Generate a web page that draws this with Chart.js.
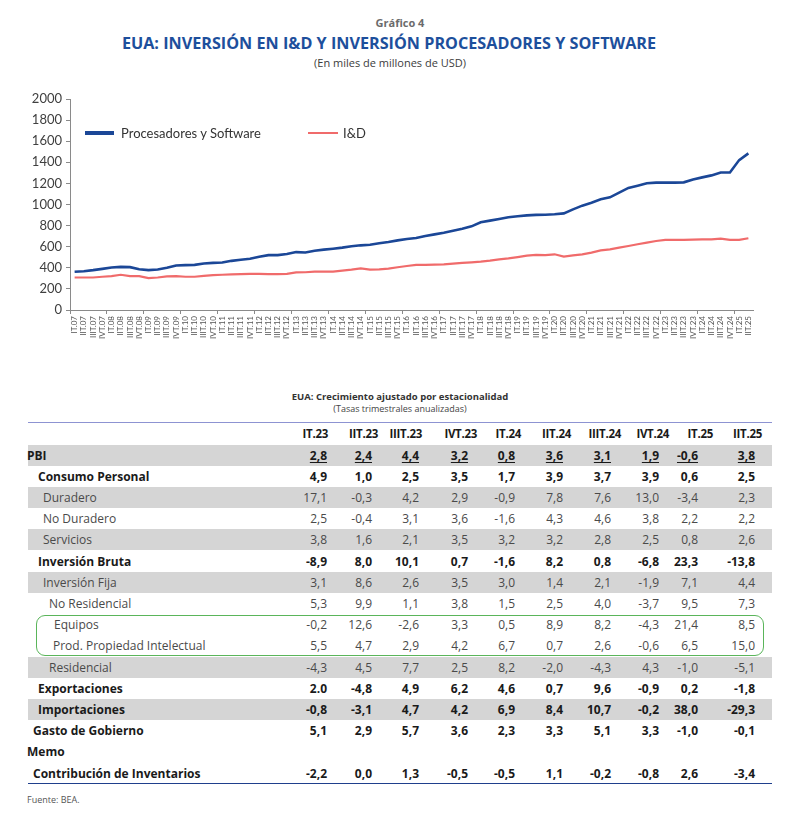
<!DOCTYPE html>
<html>
<head>
<meta charset="utf-8">
<script src="https://cdn.jsdelivr.net/npm/chart.js@4/dist/chart.umd.min.js"></script>
<style>
  html, body { margin: 0; padding: 0; background: #fff; }
  #page { position: relative; width: 800px; height: 829px; overflow: hidden; background: #fff; font-family: "Open Sans", sans-serif; }
  .abs { position: absolute; white-space: nowrap; }
  .ctr { left: 0; width: 800px; text-align: center; }
  #chartCanvas { position: absolute; left: 0; top: 85px; }
  .row { position: absolute; left: 28px; width: 744px; }
  .cell { position: absolute; top: 0; white-space: nowrap; }
</style>
</head>
<body>
<div id="page">
  <div class="abs ctr" style="top:15px;font-size:11px;font-weight:700;color:#6b6b6b;">Gráfico 4</div>
  <div class="abs ctr" style="top:32px;font-size:16.2px;font-weight:700;color:#1d4f9c;left:-11px;">EUA: INVERSIÓN EN I&amp;D Y INVERSIÓN PROCESADORES Y SOFTWARE</div>
  <div class="abs ctr" style="top:55px;font-size:11px;color:#3c3c3c;left:-10px;">(En miles de millones de USD)</div>
  <canvas id="chartCanvas" width="800" height="270"></canvas>
  <div id="legend"></div>

  <div class="abs ctr" style="top:390px;font-size:9.5px;font-weight:700;color:#333;">EUA: Crecimiento ajustado por estacionalidad</div>
  <div class="abs ctr" style="top:402px;font-size:9px;color:#444;">(Tasas trimestrales anualizadas)</div>
  <div class="abs" style="left:28px;top:422px;width:744px;height:0;border-top:1.5px solid #8d93d2;"></div>
  <div id="table"></div>
  <div class="abs" style="left:28px;top:783px;width:744px;height:0;border-top:1.5px solid #1f3f8c;"></div>
  <div class="abs" style="left:36px;top:615px;width:726px;height:39px;border:1.5px solid #5ab55a;border-radius:9px;"></div>
  <div class="abs" style="left:27px;top:793px;font-size:9px;color:#555;">Fuente: BEA.</div>
</div>
<script>
// ---------------- DATA ----------------
const years = ['07','08','09','10','11','12','13','14','15','16','17','18','19','20','21','22','23','24','25'];
const quarterNames = ['IT','IIT','IIIT','IVT'];
const lastYearQuarters = 2; // 2025: IT, IIT

const seriesNames = ['Procesadores y Software', 'I&D'];

const procesadoresSoftware = [
  362, 368, 378, 390,
  403, 409, 406, 387,
  378, 384, 400, 422,
  425, 428, 441, 447,
  450, 466, 476, 485,
  504, 520, 520, 530,
  549, 545, 562, 572,
  581, 591, 604, 613,
  619, 632, 645, 660,
  673, 682, 701, 717,
  733, 752, 771, 793,
  831, 847, 863, 879,
  888, 897, 902, 903,
  907, 916, 954, 989,
  1017, 1049, 1068, 1112,
  1157, 1178, 1201, 1207,
  1207, 1207, 1210, 1238,
  1257, 1276, 1304, 1304,
  1421, 1485
];

const iyd = [
  308, 308, 308, 315,
  321, 334, 321, 321,
  302, 308, 318, 321,
  315, 315, 324, 330,
  334, 337, 340, 343,
  343, 340, 340, 343,
  356, 358, 364, 364,
  364, 373, 382, 395,
  382, 386, 392, 405,
  417, 427, 427, 430,
  433, 440, 446, 452,
  458, 468, 480, 490,
  502, 515, 522, 521,
  528, 506, 518, 528,
  544, 565, 575, 591,
  607, 623, 639, 654,
  664, 664, 664, 667,
  670, 670, 677, 664,
  664, 680
];

const yTicks = { min: 0, max: 2000, step: 200 };

// Table data
const tableHeaders = ['IT.23','IIT.23','IIIT.23','IVT.23','IT.24','IIT.24','IIIT.24','IVT.24','IT.25','IIT.25'];
const tableLabels = ['PBI','Consumo Personal','Duradero','No Duradero','Servicios','Inversión Bruta','Inversión Fija','No Residencial','Equipos','Prod. Propiedad Intelectual','Residencial','Exportaciones','Importaciones','Gasto de Gobierno','Memo','Contribución de Inventarios'];
const pbi               = ['2,8','2,4','4,4','3,2','0,8','3,6','3,1','1,9','-0,6','3,8'];
const consumoPersonal   = ['4,9','1,0','2,5','3,5','1,7','3,9','3,7','3,9','0,6','2,5'];
const duradero          = ['17,1','-0,3','4,2','2,9','-0,9','7,8','7,6','13,0','-3,4','2,3'];
const noDuradero        = ['2,5','-0,4','3,1','3,6','-1,6','4,3','4,6','3,8','2,2','2,2'];
const servicios         = ['3,8','1,6','2,1','3,5','3,2','3,2','2,8','2,5','0,8','2,6'];
const inversionBruta    = ['-8,9','8,0','10,1','0,7','-1,6','8,2','0,8','-6,8','23,3','-13,8'];
const inversionFija     = ['3,1','8,6','2,6','3,5','3,0','1,4','2,1','-1,9','7,1','4,4'];
const noResidencial     = ['5,3','9,9','1,1','3,8','1,5','2,5','4,0','-3,7','9,5','7,3'];
const equipos           = ['-0,2','12,6','-2,6','3,3','0,5','8,9','8,2','-4,3','21,4','8,5'];
const propIntelectual   = ['5,5','4,7','2,9','4,2','6,7','0,7','2,6','-0,6','6,5','15,0'];
const residencial       = ['-4,3','4,5','7,7','2,5','8,2','-2,0','-4,3','4,3','-1,0','-5,1'];
const exportaciones     = ['2.0','-4,8','4,9','6,2','4,6','0,7','9,6','-0,9','0,2','-1,8'];
const importaciones     = ['-0,8','-3,1','4,7','4,2','6,9','8,4','10,7','-0,2','38,0','-29,3'];
const gastoGobierno     = ['5,1','2,9','5,7','3,6','2,3','3,3','5,1','3,3','-1,0','-0,1'];
const memo              = [];
const contribInventarios= ['-2,2','0,0','1,3','-0,5','-0,5','1,1','-0,2','-0,8','2,6','-3,4'];
const tableValues = [pbi, consumoPersonal, duradero, noDuradero, servicios, inversionBruta, inversionFija, noResidencial, equipos, propIntelectual, residencial, exportaciones, importaciones, gastoGobierno, memo, contribInventarios];

// ---------------- LAYOUT / STYLE ----------------
const colors = ['#1b4797', '#f06b6b'];
const rowIndent = [27,38,43,43,43,38,43,49,54,53,49,38,38,33,27,33];
const rowBold   = [1,1,0,0,0,1,0,0,0,0,0,1,1,1,1,1];
const rowGray   = [1,0,1,0,1,0,1,0,0,0,1,0,1,0,0,0];
const numRight  = [327,372,419,468,515,563,611,659,698,755];
const hdrRight  = [328,378,422,477,521,571,621,669,713,762];

// Build labels
const labels = [];
years.forEach((y, yi) => {
  const nq = (yi === years.length - 1) ? lastYearQuarters : 4;
  for (let q = 0; q < nq; q++) labels.push(quarterNames[q] + '.' + y);
});

// Legend (HTML)
const legend = document.getElementById('legend');
const legendPos = [{line: 85, w: 29, h: 3.5, text: 121}, {line: 308, w: 30, h: 2.5, text: 343}];
seriesNames.forEach((name, i) => {
  const p = legendPos[i];
  const ln = document.createElement('div');
  ln.className = 'abs';
  ln.style.cssText = `left:${p.line}px;top:${133 - p.h/2}px;width:${p.w}px;height:${p.h}px;background:${colors[i]};`;
  legend.appendChild(ln);
  const tx = document.createElement('div');
  tx.className = 'abs';
  tx.textContent = name;
  tx.style.cssText = `left:${p.text}px;top:124px;font-family:Lato,sans-serif;font-size:13px;line-height:18px;color:#333;`;
  legend.appendChild(tx);
});

// Chart
const axisColor = '#8a8a8a';
new Chart(document.getElementById('chartCanvas'), {
  type: 'line',
  data: {
    labels: labels,
    datasets: [
      { label: seriesNames[0], data: procesadoresSoftware, borderColor: colors[0], borderWidth: 2.6, pointRadius: 0, tension: 0, fill: false },
      { label: seriesNames[1], data: iyd, borderColor: colors[1], borderWidth: 2.2, pointRadius: 0, tension: 0, fill: false }
    ]
  },
  options: {
    responsive: false,
    animation: false,
    layout: { padding: { left: 25, right: 47, top: 14, bottom: 5 } },
    plugins: { legend: { display: false }, tooltip: { enabled: false }, title: { display: false } },
    scales: {
      x: {
        type: 'category',
        offset: true,
        afterFit: (s) => { s.height = 40; },
        grid: {
          offset: true,
          drawOnChartArea: false,
          drawTicks: true,
          tickLength: 4,
          color: (ctx) => (ctx.index !== undefined && ctx.index % 4 === 0) ? axisColor : 'rgba(0,0,0,0)'
        },
        border: { display: true, color: axisColor, width: 1 },
        ticks: {
          autoSkip: false,
          maxRotation: 90,
          minRotation: 90,
          padding: 2,
          color: '#555',
          font: { family: 'Lato', size: 8 }
        }
      },
      y: {
        min: yTicks.min,
        max: yTicks.max,
        afterFit: (s) => { s.width = 45; },
        grid: { drawOnChartArea: false, drawTicks: true, tickLength: 4, color: axisColor },
        border: { display: true, color: axisColor, width: 1 },
        ticks: {
          stepSize: yTicks.step,
          padding: 4,
          color: '#404040',
          font: { family: 'Lato', size: 13 },
          callback: (v) => String(v)
        }
      }
    }
  }
});

// Table (HTML)
const table = document.getElementById('table');
const headerTop = 423, rowTop = 444.5, rowH = 21.2;
// header row
const hr = document.createElement('div');
hr.className = 'row';
hr.style.cssText = `top:${headerTop}px;height:${rowTop - headerTop}px;line-height:${rowTop - headerTop}px;font-size:11.5px;letter-spacing:-0.3px;font-weight:700;color:#1a1a1a;`;
tableHeaders.forEach((h, c) => {
  const d = document.createElement('div');
  d.className = 'cell';
  d.textContent = h;
  d.style.right = (772 - hdrRight[c]) + 'px';
  hr.appendChild(d);
});
table.appendChild(hr);

tableLabels.forEach((lab, r) => {
  const row = document.createElement('div');
  row.className = 'row';
  const bold = rowBold[r] === 1;
  row.style.cssText = `top:${rowTop + r * rowH}px;height:${rowH}px;line-height:${rowH}px;font-size:12px;` +
    `background:${rowGray[r] ? '#d5d5d5' : 'transparent'};font-weight:${bold ? 700 : 400};color:${bold ? '#1a1a1a' : '#4a4a4a'};`;
  const l = document.createElement('div');
  l.className = 'cell';
  l.textContent = lab;
  l.style.left = (rowIndent[r] - 28) + 'px';
  row.appendChild(l);
  tableValues[r].forEach((v, c) => {
    const d = document.createElement('div');
    d.className = 'cell';
    d.textContent = v;
    d.style.right = (772 - numRight[c]) + 'px';
    if (r === 0) { d.style.textDecoration = 'underline'; d.style.textUnderlineOffset = '2px'; }
    row.appendChild(d);
  });
  table.appendChild(row);
});
</script>
</body>
</html>
